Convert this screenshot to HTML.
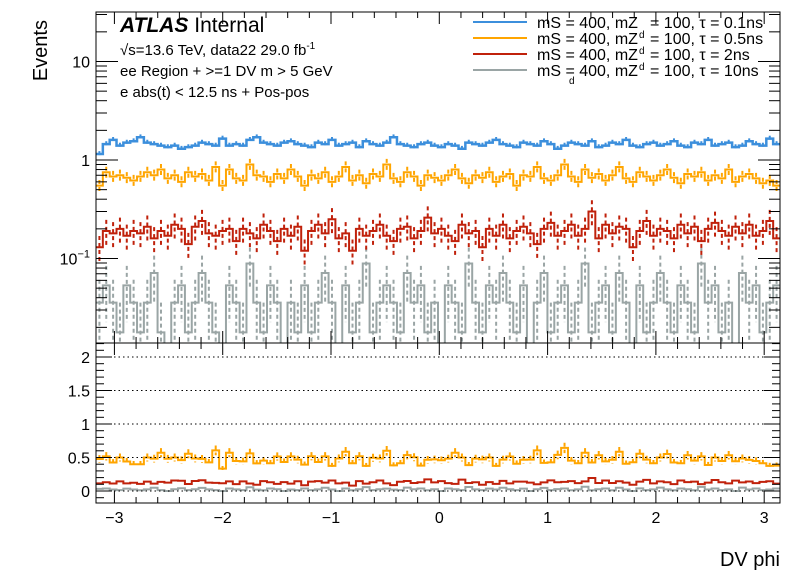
<!DOCTYPE html>
<html><head><meta charset="utf-8"><style>
body{margin:0;background:#fff;}
svg{display:block;font-family:"Liberation Sans",sans-serif;}
</style></head><body>
<svg id="c" width="796" height="572" viewBox="0 0 796 572">
<rect x="0" y="0" width="796" height="572" fill="#fff"/>
<g id="marks"></g>
<g id="axes"></g>
<text x="32" y="20" font-size="20" transform="rotate(-90 32 20)" text-anchor="end" dy="15">Events</text>
<text x="780" y="566" font-size="20" text-anchor="end">DV phi</text>
<text x="120" y="32" font-size="21"><tspan font-weight="bold" font-style="italic">ATLAS</tspan> Internal</text>
<text x="120" y="55" font-size="15">√s=13.6 TeV, data22 29.0 fb<tspan font-size="10" dy="-6">-1</tspan></text>
<text x="120" y="76" font-size="15">ee Region + &gt;=1 DV m &gt; 5 GeV</text>
<text x="120" y="97" font-size="15">e abs(t) &lt; 12.5 ns + Pos-pos</text>
<g id="legend" font-size="16"></g>
</svg>
<script>
const blue=[1.15,1.45,1.6,1.4,1.5,1.55,1.7,1.5,1.45,1.4,
1.35,1.4,1.3,1.35,1.4,1.5,1.45,1.4,1.65,1.4,
1.45,1.4,1.6,1.7,1.5,1.45,1.4,1.5,1.55,1.45,
1.4,1.35,1.5,1.45,1.6,1.4,1.45,1.5,1.35,1.55,
1.45,1.4,1.5,1.7,1.45,1.4,1.35,1.45,1.5,1.4,
1.35,1.45,1.4,1.3,1.5,1.45,1.4,1.5,1.6,1.45,
1.4,1.35,1.5,1.45,1.4,1.55,1.45,1.3,1.4,1.5,
1.45,1.4,1.55,1.35,1.4,1.5,1.45,1.6,1.4,1.35,
1.45,1.5,1.4,1.45,1.55,1.4,1.35,1.5,1.45,1.6,
1.4,1.45,1.5,1.35,1.4,1.55,1.45,1.4,1.65,1.45];
const orange=[0.55,0.75,0.68,0.7,0.66,0.62,0.68,0.75,0.7,0.8,
0.65,0.7,0.6,0.75,0.68,0.72,0.62,0.85,0.55,0.8,
0.65,0.62,0.9,0.7,0.68,0.6,0.72,0.65,0.8,0.68,
0.55,0.7,0.65,0.75,0.6,0.68,0.85,0.62,0.7,0.58,
0.72,0.68,0.9,0.65,0.6,0.75,0.68,0.55,0.7,0.66,
0.62,0.7,0.8,0.65,0.58,0.7,0.66,0.75,0.6,0.68,
0.72,0.55,0.7,0.68,0.85,0.65,0.62,0.7,0.9,0.68,
0.6,0.8,0.66,0.72,0.62,0.7,0.85,0.65,0.6,0.75,
0.68,0.62,0.7,0.8,0.66,0.58,0.72,0.68,0.75,0.62,
0.7,0.65,0.8,0.6,0.68,0.72,0.65,0.58,0.62,0.55];
const red=[0.13,0.19,0.18,0.2,0.17,0.19,0.18,0.21,0.16,0.19,
0.17,0.22,0.2,0.14,0.21,0.24,0.18,0.17,0.19,0.2,
0.15,0.2,0.18,0.16,0.22,0.19,0.15,0.2,0.17,0.21,
0.12,0.19,0.22,0.18,0.25,0.16,0.18,0.12,0.2,0.17,
0.19,0.22,0.17,0.15,0.2,0.21,0.16,0.19,0.26,0.18,
0.2,0.17,0.15,0.22,0.18,0.19,0.13,0.2,0.17,0.22,
0.16,0.19,0.21,0.18,0.14,0.2,0.23,0.17,0.19,0.22,
0.17,0.2,0.3,0.16,0.22,0.18,0.21,0.2,0.13,0.19,
0.24,0.17,0.2,0.19,0.16,0.22,0.18,0.21,0.15,0.2,
0.23,0.19,0.17,0.21,0.18,0.22,0.17,0.19,0.24,0.16];
const greyCounts=[2,3,2,1,3,2,1,2,4,1,
0,2,3,1,2,4,2,1,0,3,
2,1,5,2,1,3,2,0,2,1,
3,1,2,4,2,0,3,1,2,5,
1,2,3,2,1,4,2,3,1,2,
0,3,2,1,5,2,1,3,2,4,
2,1,3,0,2,4,1,2,3,1,
2,5,1,2,3,1,4,2,0,3,
1,2,4,2,1,3,2,1,5,2,
3,1,2,0,4,2,3,1,2,3];
const greyWeight=0.0178;
const grey=greyCounts.map(k=>k*greyWeight);
const xTicks=[-3,-2,-1,0,1,2,3];
const yTicksTop=[10,1,0.1];
const yTickLabelsTop=["10","1","10"];
const ratioTicks=[0,0.5,1,1.5,2];
const ratioTickLabels=["0","0.5","1","1.5","2"];
const legendLabels=["0.1ns","0.5ns","2ns","10ns"];

const NS="http://www.w3.org/2000/svg";
const X0=96,X1=780,UT=12,UB=343,LT=343,LB=503;
const XMIN=-3.17,XMAX=3.146;
const xs=v=>X0+(v-XMIN)/(XMAX-XMIN)*(X1-X0);
const ys=v=>{if(v<=0)return UB+2;const y=160-98.5*Math.log10(v);return Math.min(y,UB+2);};
const yr=v=>491-67*v;
function mk(tag,attrs,parent){const e=document.createElementNS(NS,tag);for(const k in attrs)e.setAttribute(k,attrs[k]);parent.appendChild(e);return e;}
const marks=document.getElementById('marks');
const axes=document.getElementById('axes');
const cu=mk('clipPath',{id:'cu'},marks);mk('rect',{x:X0,y:UT,width:X1-X0,height:UB-UT},cu);
const cl=mk('clipPath',{id:'cl'},marks);mk('rect',{x:X0,y:LT,width:X1-X0,height:LB-LT},cl);

ratioTicks.forEach(t=>{const g=mk('line',{x1:X0,x2:X1,y1:yr(t),y2:yr(t),stroke:'#000','stroke-width':1,'stroke-dasharray':'1.5 3'},axes);

});

function series(vals,errFn,color,name,yfun,clip,sw){
  const g=mk('g',{'clip-path':'url(#'+clip+')'},marks);
  
  
  const n=vals.length,w=(XMAX-XMIN)/n;
  let d='';
  vals.forEach((v,i)=>{const xa=xs(XMIN+i*w),xb=xs(XMIN+(i+1)*w),y=yfun(v);d+=(i?'L':'M')+xa+' '+y+'L'+xb+' '+y;});
  const p=mk('path',{d:d,fill:'none',stroke:color,'stroke-width':sw||2},g);
  
  
  vals.forEach((v,i)=>{const e=errFn(v,i);if(e<=0)return;const xc=xs(XMIN+(i+0.5)*w);
    const l=mk('line',{x1:xc,x2:xc,y1:yfun(v+e),y2:yfun(Math.max(v-e,1e-9)),stroke:color,'stroke-width':2,'stroke-dasharray':'4 3'},g);
    
    });
}
series(grey,(v,i)=>Math.sqrt(greyCounts[i])*greyWeight,'#9aa5a5','series-10ns',ys,'cu');
series(red,v=>v*0.3,'#c0210b','series-2ns',ys,'cu');
series(orange,v=>v*0.14,'#ffa500','series-0p5ns',ys,'cu');
series(blue,v=>v*0.07,'#3c8fdc','series-0p1ns',ys,'cu',2.5);
const rGrey=grey.map((v,i)=>v/blue[i]),rRed=red.map((v,i)=>v/blue[i]),rOr=orange.map((v,i)=>v/blue[i]);
series(rGrey,v=>0,'#9aa5a5','ratio-10ns',yr,'cl');
series(rRed,v=>0,'#c0210b','ratio-2ns',yr,'cl');
series(rOr,v=>v*0.12,'#ffa500','ratio-0p5ns',yr,'cl');

[[UT,UB],[LT,LB]].forEach(([t,b],k)=>{const r=mk('rect',{x:X0,y:t,width:X1-X0,height:b-t,fill:'none',stroke:'#000','stroke-width':1},axes);

});
for(let i=-16;i<=16;i++){const v=i/5;if(v<XMIN||v>XMAX)continue;const x=xs(v),maj=i%5===0;
  [[UB,-1],[LB,-1],[UT,1],[LT,1]].forEach(([y0,s])=>{const L=maj?12:6;mk('line',{x1:x,x2:x,y1:y0,y2:y0+s*L,stroke:'#000'},axes);});}
xTicks.forEach(t=>{const tx=mk('text',{x:xs(t),y:523,'font-size':16,'text-anchor':'middle'},axes);tx.textContent=(t<0?'\u2212':'')+Math.abs(t);

});
for(let d=-2;d<=1;d++)for(let m=1;m<=9;m++){const v=m*Math.pow(10,d);const y=160-98.5*Math.log10(v);if(y<UT||y>UB)continue;const L=m===1?22:11;
  mk('line',{x1:X0,x2:X0+L,y1:y,y2:y,stroke:'#000'},axes);mk('line',{x1:X1,x2:X1-L,y1:y,y2:y,stroke:'#000'},axes);}
yTicksTop.forEach((t,i)=>{const tx=mk('text',{x:90,y:ys(t)+6,'font-size':16,'text-anchor':'end'},axes);tx.textContent=yTickLabelsTop[i];
if(t<1){const s=mk('tspan',{'font-size':11,dy:-7},tx);s.textContent='\u22121';}

});
for(let i=-1;i<=22;i++){const v=i/10,y=yr(v);if(y<LT||y>LB)continue;const L=i%5===0?16:8;
  mk('line',{x1:X0,x2:X0+L,y1:y,y2:y,stroke:'#000'},axes);mk('line',{x1:X1,x2:X1-L,y1:y,y2:y,stroke:'#000'},axes);}
ratioTicks.forEach((t,i)=>{const tx=mk('text',{x:90,y:yr(t)+6,'font-size':16,'text-anchor':'end'},axes);tx.textContent=ratioTickLabels[i];

});
const lg=document.getElementById('legend');const cols=['#3c8fdc','#ffa500','#c0210b','#9aa5a5'];
legendLabels.forEach((lab,i)=>{const y=22+i*16;const g=mk('g',{},lg);


mk('line',{x1:473,x2:527,y1:y,y2:y,stroke:cols[i],'stroke-width':2},g);
const t1=mk('text',{x:537,y:y+6},g);t1.textContent='mS = 400, mZ';
const t2=mk('text',{x:650,y:y+6},g);t2.textContent='= 100, \u03c4 = '+lab;
if(i>0){const s=mk('text',{x:639,y:y,'font-size':10},g);s.textContent='d';}
if(i===3){const s=mk('text',{x:569,y:y+14,'font-size':10},g);s.textContent='d';}});
</script>
</body></html>
